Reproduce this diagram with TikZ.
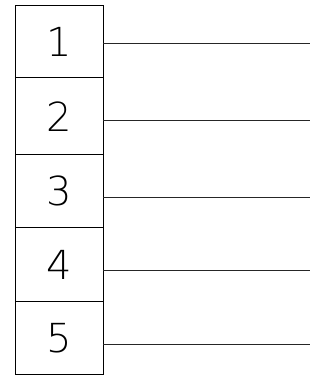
\documentclass[tikz,border=0pt]{standalone}
\usepackage{fontspec}
\newfontfamily\digitfont{DejaVu Sans ExtraLight}
\begin{document}
\begin{tikzpicture}[x=1pt,y=-1pt,
  cell/.style={draw=black,line width=1pt,inner sep=0pt,outer sep=0pt,minimum width=88pt,
    font=\digitfont\fontsize{40}{40}\selectfont},
  lead/.style={draw=black!85,line width=1pt}]
\useasboundingbox (0,0) rectangle (322,379);
\node[cell,minimum height=72.3pt] (b1) at (59,41.65) {1};
\node[cell,minimum height=77pt] (b2) at (59,116.3) {2};
\node[cell,minimum height=73pt] (b3) at (59,191.3) {3};
\node[cell,minimum height=73.6pt] (b4) at (59,264.6) {4};
\node[cell,minimum height=73.2pt] (b5) at (59,338.0) {5};
\coordinate (e1) at (310,43.3);
\coordinate (e2) at (310,120.7);
\coordinate (e3) at (310,197.3);
\coordinate (e4) at (310,270.7);
\coordinate (e5) at (310,344);
\draw[lead] (e1 -| b1.east) -- (e1);
\draw[lead] (e2 -| b2.east) -- (e2);
\draw[lead] (e3 -| b3.east) -- (e3);
\draw[lead] (e4 -| b4.east) -- (e4);
\draw[lead] (e5 -| b5.east) -- (e5);
\end{tikzpicture}
\end{document}
